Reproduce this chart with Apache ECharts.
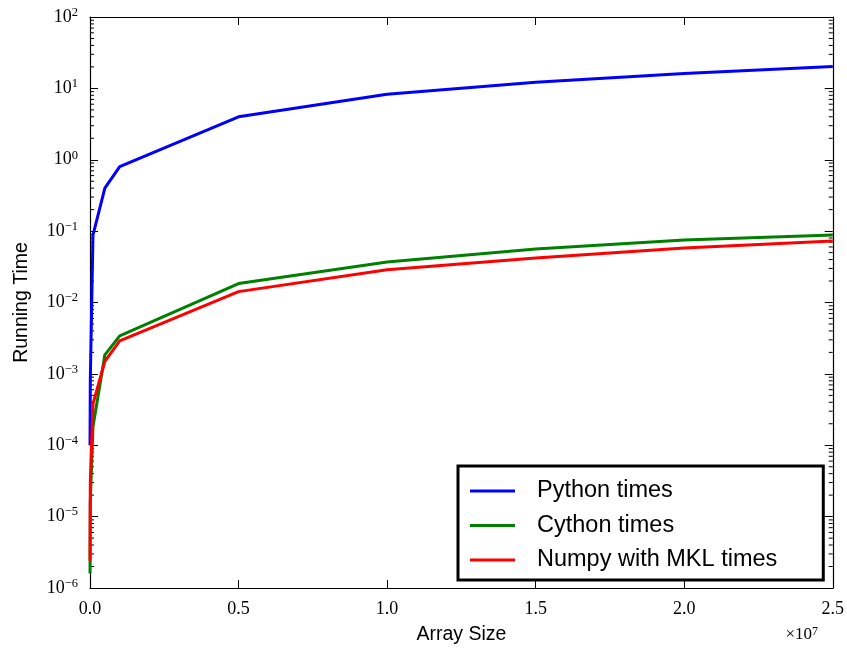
<!DOCTYPE html>
<html>
<head>
<meta charset="utf-8">
<script src="https://cdn.jsdelivr.net/npm/echarts@6/dist/echarts.min.js"></script>
<style>html,body{margin:0;padding:0;background:#fff}#c{width:847px;height:650px}</style>
</head>
<body>
<div id="c"></div>
<script>
var arraySizes = [1000, 10000, 100000, 500000, 1000000, 5000000, 10000000, 15000000, 20000000, 25000000];
var pythonTimes = [1e-4, 8e-4, 0.088, 0.40, 0.80, 4.0, 8.3, 12.2, 16.2, 20.3];
var cythonTimes = [1.6e-6, 1.6e-5, 1.8e-4, 1.85e-3, 3.4e-3, 0.0184, 0.037, 0.056, 0.075, 0.088];
var numpyTimes = [2.4e-6, 3e-5, 3.8e-4, 1.5e-3, 2.9e-3, 0.0142, 0.0287, 0.042, 0.058, 0.0726];
var seriesNames = ['Python times', 'Cython times', 'Numpy with MKL times'];
var xTickLabels = ['0.0', '0.5', '1.0', '1.5', '2.0', '2.5'];

var minorVals = [];
for (var d = -6; d < 2; d++) {
  for (var m = 2; m <= 9; m++) minorVals.push([0, m * Math.pow(10, d)]);
}
function pairs(ys) { return arraySizes.map(function (x, i) { return [x, ys[i]]; }); }

var serif = '"Liberation Serif", "DejaVu Serif", serif';
var sans = '"Liberation Sans", Arial, sans-serif';

var chart = echarts.init(document.getElementById('c'), null, {renderer: 'canvas'});
var xCommon = {
  type: 'value', min: 0, max: 25000000, interval: 5000000,
  axisLine: {show: true, onZero: false, lineStyle: {color: '#000', width: 1.2}},
  axisTick: {show: true, inside: true, length: 8, lineStyle: {color: '#000', width: 1}},
  splitLine: {show: false}
};
var yCommon = {
  type: 'log', logBase: 10, min: 1e-6, max: 100, interval: 1,
  axisLine: {show: true, onZero: false, lineStyle: {color: '#000', width: 1.2}},
  axisTick: {show: true, inside: true, length: 8, lineStyle: {color: '#000', width: 1}},
  minorTick: {show: false},
  splitLine: {show: false}
};
var option = {
  animation: false,
  backgroundColor: '#fff',
  grid: {left: 90, right: 13, top: 17, bottom: 57, containLabel: false},
  xAxis: [
    Object.assign({}, xCommon, {
      position: 'bottom',
      name: 'Array Size', nameLocation: 'middle', nameGap: 37,
      nameTextStyle: {fontFamily: sans, fontSize: 19.5, color: '#000'},
      axisLabel: {show: true, margin: 12, color: '#000', fontFamily: serif, fontSize: 18,
        formatter: function (v) { return xTickLabels[Math.round(v / 5000000)]; }}
    }),
    Object.assign({}, xCommon, {position: 'top', axisLabel: {show: false}})
  ],
  yAxis: [
    Object.assign({}, yCommon, {
      position: 'left',
      name: 'Running Time', nameLocation: 'middle', nameGap: 58,
      nameTextStyle: {fontFamily: sans, fontSize: 19.5, color: '#000'},
      axisLabel: {show: true, margin: 12, color: '#000',
        formatter: function (v) {
          var e = Math.round(Math.log10(v));
          return '{b|10}{s|' + (e < 0 ? '\u2212' + (-e) : e) + '}';
        },
        rich: {
          b: {fontFamily: serif, fontSize: 18, color: '#000', lineHeight: 22},
          s: {fontFamily: serif, fontSize: 12.5, color: '#000', verticalAlign: 'top', lineHeight: 14}
        }}
    }),
    Object.assign({}, yCommon, {position: 'right', axisLabel: {show: false}})
  ],
  legend: {
    data: seriesNames,
    orient: 'vertical',
    left: 458, top: 466,
    backgroundColor: '#fff',
    borderColor: '#000', borderWidth: 3, borderRadius: 0,
    padding: [13, 46, 8, 12],
    itemGap: 10.5,
    itemWidth: 45, itemHeight: 3,
    icon: 'rect',
    textStyle: {fontFamily: sans, fontSize: 23.5, color: '#000', padding: [0, 0, 0, 17]}
  },
  graphic: [{
    type: 'text', right: 29, top: 626,
    style: {
      text: '{m|\u00d710}{s|7}',
      rich: {
        m: {fontFamily: serif, fontSize: 17, fill: '#000'},
        s: {fontFamily: serif, fontSize: 12, fill: '#000', verticalAlign: 'top'}
      }
    }
  }],
  series: [
    {name: seriesNames[0], type: 'line', data: pairs(pythonTimes), showSymbol: false, symbol: 'none',
      lineStyle: {color: '#0000ff', width: 3}, itemStyle: {color: '#0000ff'}, clip: true},
    {name: seriesNames[1], type: 'line', data: pairs(cythonTimes), showSymbol: false, symbol: 'none',
      lineStyle: {color: '#008000', width: 3}, itemStyle: {color: '#008000'}, clip: true},
    {name: seriesNames[2], type: 'line', data: pairs(numpyTimes), showSymbol: false, symbol: 'none',
      lineStyle: {color: '#ff0000', width: 3}, itemStyle: {color: '#ff0000'}, clip: true},
    {type: 'custom', name: 'minor', data: minorVals, silent: true, z: 1,
      renderItem: function (params, api) {
        var y = api.coord([0, api.value(1)])[1];
        var cs = params.coordSys;
        var st = {stroke: '#000', lineWidth: 1};
        return {type: 'group', children: [
          {type: 'line', shape: {x1: cs.x, y1: y, x2: cs.x + 4, y2: y}, style: st},
          {type: 'line', shape: {x1: cs.x + cs.width - 4, y1: y, x2: cs.x + cs.width, y2: y}, style: st}
        ]};
      }}
  ]
};
chart.setOption(option);
</script>
</body>
</html>
